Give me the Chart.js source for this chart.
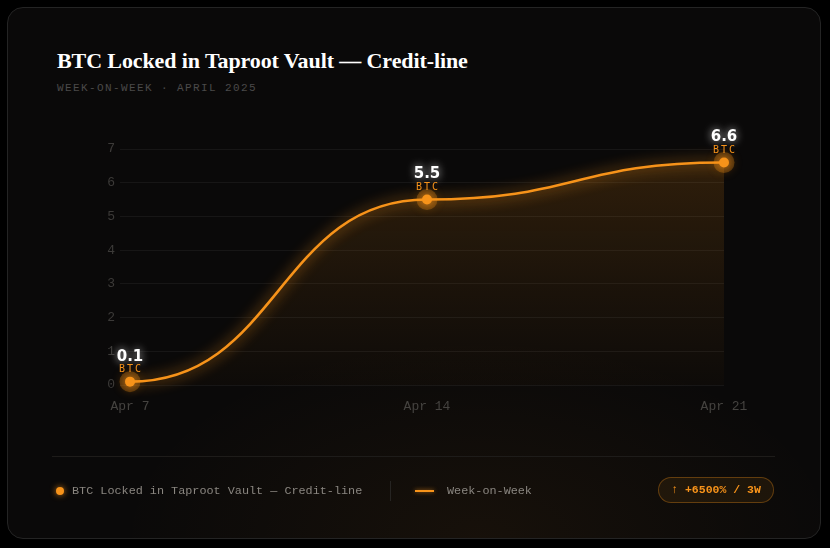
<!DOCTYPE html>
<html>
<head>
<meta charset="utf-8">
<script src="https://cdn.jsdelivr.net/npm/chart.js@4.4.1/dist/chart.umd.min.js"></script>
<style>
  html, body { margin: 0; padding: 0; background: #000; }
  body { width: 830px; height: 548px; position: relative; overflow: hidden; }
  .card {
    position: absolute; left: 7px; top: 7px; width: 814px; height: 532px;
    border: 1px solid #242424; border-radius: 16px; box-sizing: border-box;
    background: radial-gradient(ellipse 360px 200px at 58% 100%, rgba(247,147,26,0.055), rgba(247,147,26,0) 100%), #0a0909;
  }
  .title {
    position: absolute; left: 57px; top: 48px; margin: 0;
    font: 700 22px "Liberation Serif", "DejaVu Serif", serif; color: #fff; letter-spacing: -0.1px;
  }
  .sub {
    position: absolute; left: 57px; top: 82px;
    font: 400 11px "Liberation Mono", "DejaVu Sans Mono", monospace; color: #4a4a4a; letter-spacing: 1.4px;
  }
  .chartbox { position: absolute; left: 0; top: 0; width: 830px; height: 548px; }
  .divider { position: absolute; left: 52px; width: 723px; top: 456px; height: 1px; background: #1e1c1a; }
  .legend {
    position: absolute; top: 483px; left: 0; height: 16px;
    font: 400 11.8px "Liberation Mono", "DejaVu Sans Mono", monospace; color: #8a8680;
  }
  .legend span { position: absolute; white-space: nowrap; top: 0; line-height: 16px; }
  .dot { position: absolute; left: 56px; top: 4px; width: 8px; height: 8px; border-radius: 50%; background: #f7931a; box-shadow: 0 0 6px rgba(247,147,26,0.8); }
  .sep { position: absolute; left: 390px; top: -2px; width: 1px; height: 20px; background: #262422; }
  .swatch { position: absolute; left: 415px; top: 7px; width: 19px; height: 2px; background: #f7931a; box-shadow: 0 0 4px rgba(247,147,26,0.7); }
  .badge {
    position: absolute; left: 658px; top: 477px; width: 116px; height: 26px; box-sizing: border-box;
    border: 1px solid rgba(247,147,26,0.32); border-radius: 13px; background: rgba(247,147,26,0.08);
    font: 700 11.5px "Liberation Mono", "DejaVu Sans Mono", monospace; color: #f7931a;
    text-align: center; line-height: 24px; white-space: nowrap;
  }
</style>
</head>
<body>
<div class="card"></div>
<h1 class="title">BTC Locked in Taproot Vault — Credit-line</h1>
<div class="sub">WEEK-ON-WEEK · APRIL 2025</div>
<div class="chartbox"><canvas id="chart"></canvas></div>
<div class="divider"></div>
<div class="legend">
  <div class="dot"></div>
  <span style="left:72px">BTC Locked in Taproot Vault — Credit-line</span>
  <div class="sep"></div>
  <div class="swatch"></div>
  <span style="left:447px">Week-on-Week</span>
</div>
<div class="badge">↑ +6500% / 3W</div>

<script>
// data
const weeks = ['Apr 7', 'Apr 14', 'Apr 21'];
const btcLocked = [0.1, 5.5, 6.6];
const unitLabel = 'BTC';
const yMin = 0;
const yMax = 7;

const ORANGE = '#f7931a';

// horizontal tangents at each point (smooth "bump" curve)
const bumpCurve = {
  id: 'bumpCurve',
  beforeDatasetsDraw(chart) {
    chart.getSortedVisibleDatasetMetas().forEach(meta => {
      const line = meta.dataset;
      const pts = meta.data;
      if (!line) return;
      line.updateControlPoints(chart.chartArea, 'x');
      pts.forEach((p, i) => {
        const prev = pts[i - 1], next = pts[i + 1];
        p.cp1x = prev ? p.x - (p.x - prev.x) / 2 : p.x;
        p.cp1y = p.y;
        p.cp2x = next ? p.x + (next.x - p.x) / 2 : p.x;
        p.cp2y = p.y;
      });
      line._path = undefined;
    });
  }
};

// orange glow on the line
const glow = {
  id: 'glow',
  beforeDatasetDraw(chart) {
    const ctx = chart.ctx;
    ctx.save();
    ctx.shadowColor = 'rgba(247,147,26,0.95)';
    ctx.shadowBlur = 14;
  },
  afterDatasetDraw(chart) {
    chart.ctx.restore();
  }
};

// halos + value labels
const pointLabels = {
  id: 'pointLabels',
  afterDatasetsDraw(chart) {
    const ctx = chart.ctx;
    const meta = chart.getDatasetMeta(0);
    meta.data.forEach((p, i) => {
      ctx.save();
      ctx.shadowColor = 'rgba(247,147,26,0.6)';
      ctx.shadowBlur = 10;
      ctx.fillStyle = 'rgba(247,147,26,0.28)';
      ctx.beginPath();
      ctx.arc(p.x, p.y, 10.5, 0, Math.PI * 2);
      ctx.fill();
      ctx.shadowBlur = 6;
      ctx.fillStyle = ORANGE;
      ctx.beginPath();
      ctx.arc(p.x, p.y, 5, 0, Math.PI * 2);
      ctx.fill();

      ctx.textAlign = 'center';
      ctx.textBaseline = 'middle';
      ctx.shadowColor = 'rgba(255,255,255,0.75)';
      ctx.shadowBlur = 8;
      ctx.fillStyle = '#ffffff';
      ctx.font = '700 15px "DejaVu Sans", sans-serif';
      ctx.fillText(String(btcLocked[i]), p.x, p.y - 25);

      ctx.shadowBlur = 0;
      ctx.fillStyle = ORANGE;
      ctx.font = '400 10px "DejaVu Sans Mono", monospace';
      ctx.letterSpacing = '2px';
      ctx.fillText(unitLabel, p.x + 1, p.y - 12);
      ctx.restore();
    });
  }
};

const ctx = document.getElementById('chart');
new Chart(ctx, {
  type: 'line',
  data: {
    labels: weeks,
    datasets: [{
      label: 'BTC Locked in Taproot Vault — Credit-line',
      data: btcLocked,
      borderColor: ORANGE,
      borderWidth: 2.6,
      tension: 0.4,
      pointRadius: 0,
      pointHoverRadius: 0,
      clip: false,
      fill: 'origin',
      backgroundColor: (c) => {
        const area = c.chart.chartArea;
        if (!area) return 'rgba(247,147,26,0.1)';
        const g = c.chart.ctx.createLinearGradient(0, area.top, 0, area.bottom);
        g.addColorStop(0, 'rgba(247,147,26,0.17)');
        g.addColorStop(0.6, 'rgba(247,147,26,0.07)');
        g.addColorStop(1, 'rgba(247,147,26,0.02)');
        return g;
      }
    }]
  },
  options: {
    responsive: true,
    maintainAspectRatio: false,
    animation: false,
    layout: { padding: { left: 52, right: 106, top: 149, bottom: 133 } },
    plugins: {
      legend: { display: false },
      tooltip: { enabled: false }
    },
    scales: {
      x: {
        afterFit: (s) => { s.height = 30; },
        grid: { display: false, drawTicks: false },
        border: { display: false },
        ticks: {
          padding: 14,
          color: '#454340',
          font: { family: '"Liberation Mono", "DejaVu Sans Mono", monospace', size: 13 }
        }
      },
      y: {
        min: yMin,
        max: yMax,
        afterFit: (s) => { s.width = 78; },
        grid: { color: 'rgba(255,255,255,0.055)', tickLength: 10, drawTicks: true },
        border: { display: false },
        ticks: {
          stepSize: 1,
          padding: 5,
          color: '#3c3a38',
          font: { family: '"Liberation Mono", "DejaVu Sans Mono", monospace', size: 13 }
        }
      }
    }
  },
  plugins: [bumpCurve, glow, pointLabels]
});
</script>
</body>
</html>
